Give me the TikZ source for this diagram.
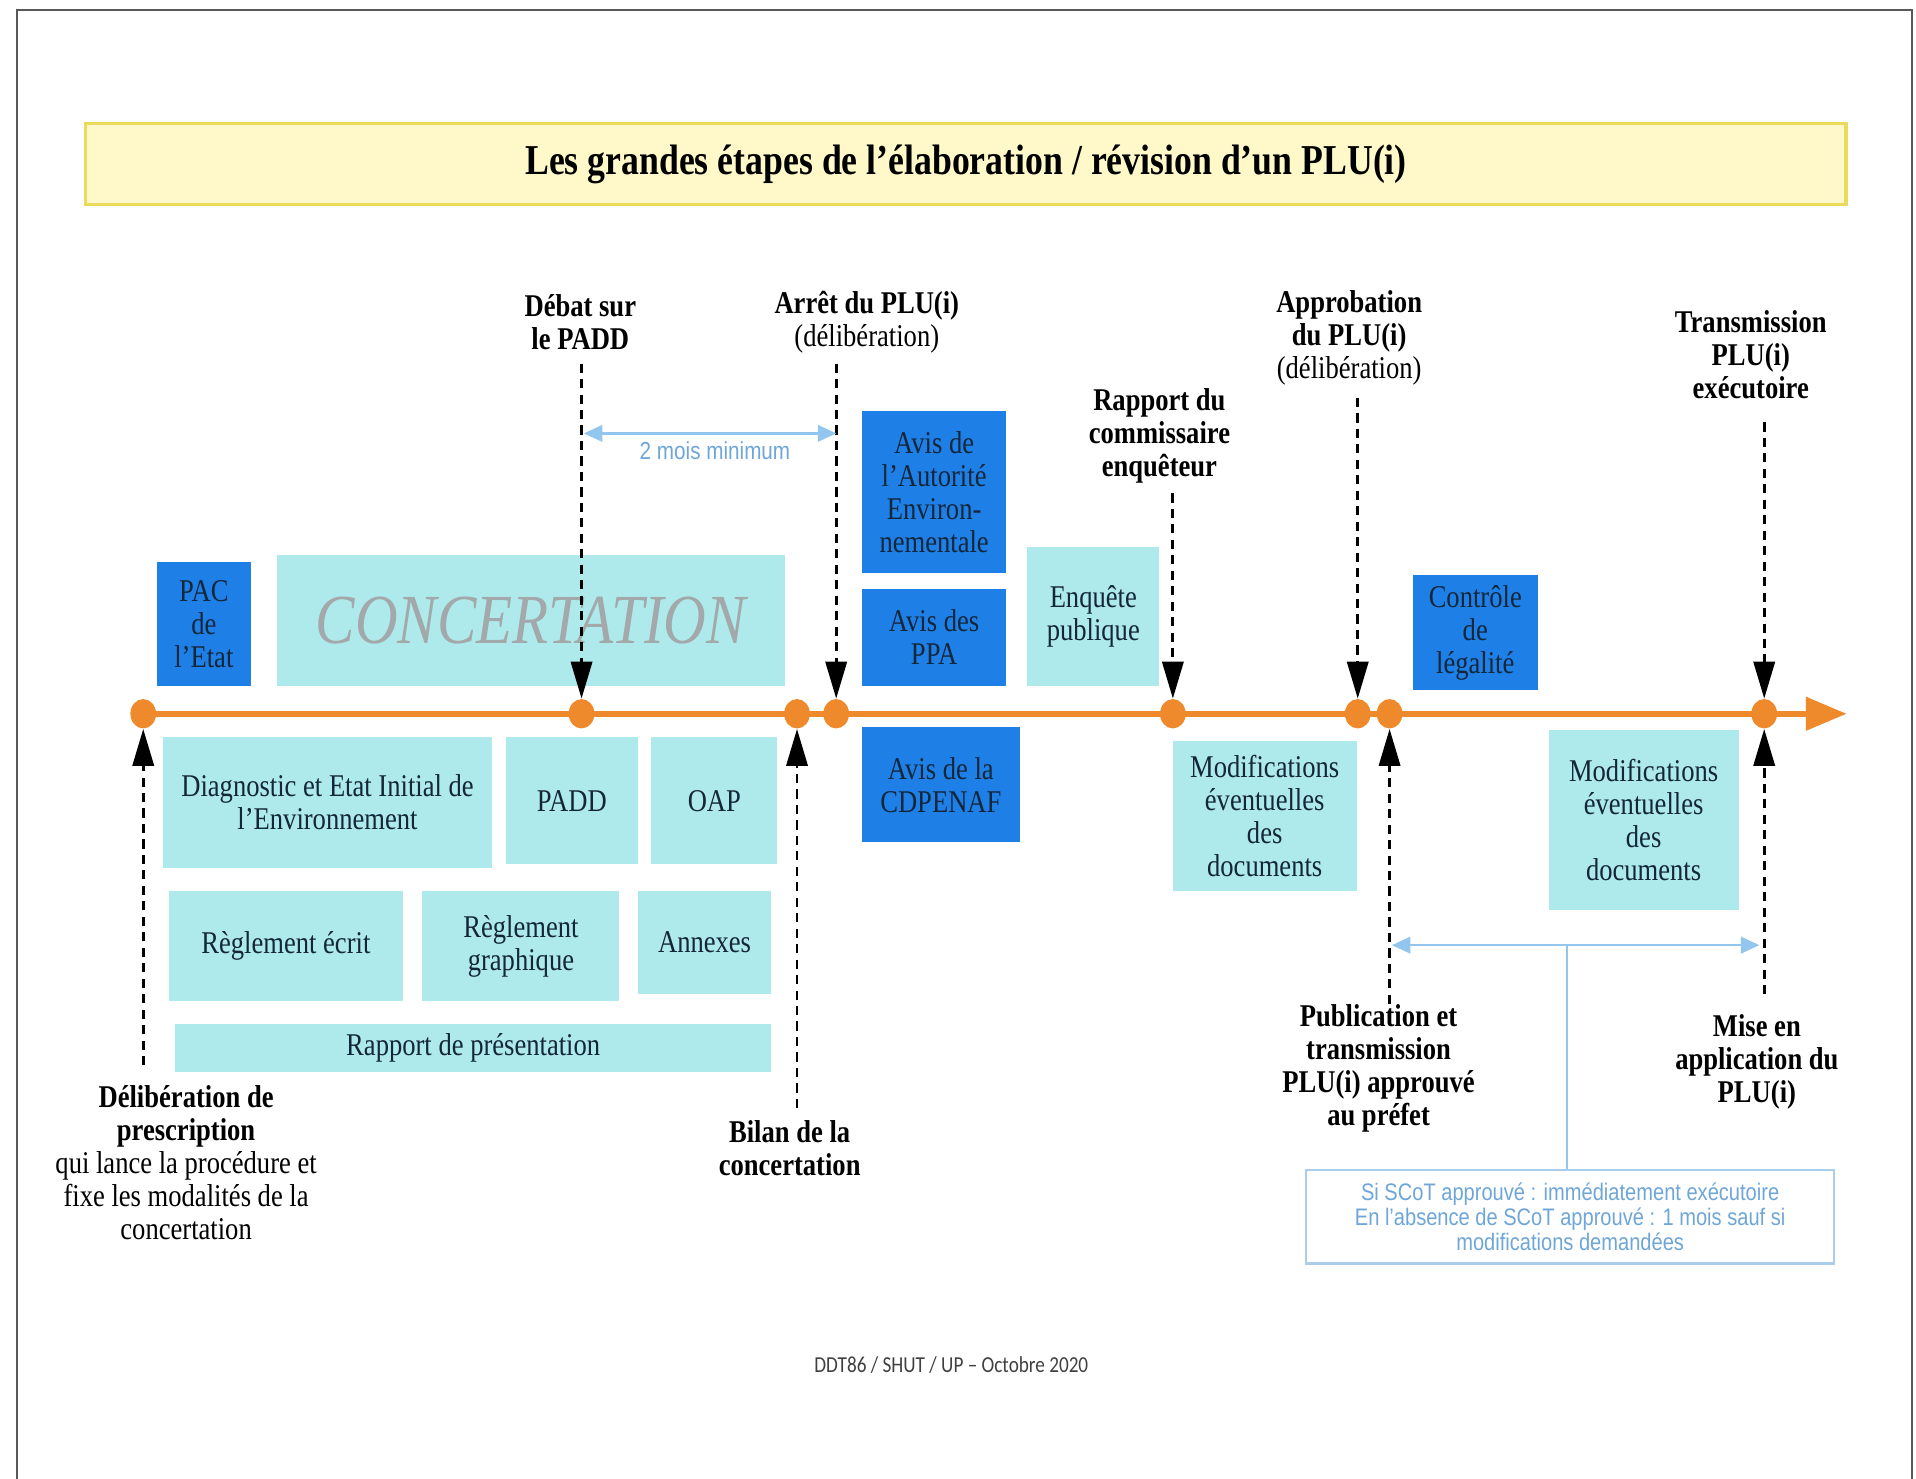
\documentclass[tikz,border=0pt]{standalone}
\usepackage{fontspec}
\setmainfont{Liberation Serif}[FakeStretch=0.84]
\newfontfamily\notefont{Liberation Sans}[FakeStretch=0.84]
\newfontfamily\footfont{Carlito}[FakeStretch=0.84]
\usetikzlibrary{shapes.geometric,backgrounds}
\definecolor{tlorange}{HTML}{EE8A2B}
\definecolor{boxcyan}{HTML}{AEEAEB}
\definecolor{boxblue}{HTML}{1E80E6}
\definecolor{boxtext}{HTML}{13263A}
\definecolor{concgray}{HTML}{A3A8AA}
\definecolor{gapblue}{HTML}{92C6EE}
\definecolor{gaptext}{HTML}{6EA6D8}
\definecolor{notebord}{HTML}{A9CDEA}
\definecolor{titlefill}{HTML}{FFF8C8}
\definecolor{titlebord}{HTML}{ECDA5A}
\newdimen\vu \vu=0.012243cm

\begin{document}
\begin{tikzpicture}[x=0.012243cm,y=-0.012243cm]
\tikzstyle{every node}+=[inner sep=0pt]
\tikzstyle{cyanbox}=[fill=boxcyan, text=boxtext, align=center, font=\fontsize{9}{9.4}\selectfont]
\tikzstyle{bluebox}=[fill=boxblue, text=boxtext, align=center, font=\fontsize{9}{9.4}\selectfont]
\tikzstyle{milestone}=[ellipse, fill=tlorange, minimum width=21\vu, minimum height=24\vu]
\tikzstyle{lbl}=[align=center, font=\fontsize{9}{9.4}\selectfont]
\tikzstyle{lblb}=[align=center, font=\fontsize{9}{9.4}\selectfont\bfseries]
\tikzstyle{dasharrow}=[black, line width=0.8pt, dash pattern=on 2.6pt off 1.8pt, shorten >=20\vu]
\tikzstyle{gap}=[gapblue, line width=0.7pt, shorten >=10\vu, shorten <=10\vu]
\useasboundingbox (0,0) rectangle (1565,1208);
\draw [black!65, line width=0.5pt] (14,1208) -- (14,8) -- (1562,8) -- (1562,1208);
\node [fill=titlefill, draw=titlebord, line width=1pt, minimum width=1438\vu, minimum height=66\vu, font=\fontsize{12.1}{13}\selectfont\bfseries] (title) at (789,134) {Les grandes étapes de l’élaboration / révision d’un PLU(i)};
\node [cyanbox, minimum width=415\vu, minimum height=107\vu, text=concgray, font=\fontsize{20}{21}\selectfont\itshape] (conc) at (433.5,506.5) {CONCERTATION};
\node [cyanbox, minimum width=269\vu, minimum height=107\vu] (diag) at (267.5,655.5) {Diagnostic et Etat Initial de\\l’Environnement};
\node [cyanbox, minimum width=108\vu, minimum height=104\vu] (padd) at (467,654) {PADD};
\node [cyanbox, minimum width=103\vu, minimum height=104\vu] (oap) at (583.5,654) {OAP};
\node [cyanbox, minimum width=191\vu, minimum height=90\vu] (regecr) at (233.5,773) {Règlement écrit};
\node [cyanbox, minimum width=161\vu, minimum height=90\vu] (reggra) at (425.5,773) {Règlement\\graphique};
\node [cyanbox, minimum width=109\vu, minimum height=84\vu] (annex) at (575.5,770) {Annexes};
\node [cyanbox, minimum width=487\vu, minimum height=40\vu] (rapp) at (386.5,856) {Rapport de présentation};
\node [cyanbox, minimum width=108\vu, minimum height=113\vu] (enq) at (893,503.5) {Enquête\\publique};
\node [cyanbox, minimum width=150\vu, minimum height=123\vu] (modifA) at (1033,666.5) {Modifications\\éventuelles\\des\\documents};
\node [cyanbox, minimum width=155\vu, minimum height=147\vu] (modifB) at (1342.5,669.5) {Modifications\\éventuelles\\des\\documents};
\node [bluebox, minimum width=77\vu, minimum height=101\vu] (pac) at (166.5,509.5) {PAC\\de\\l’Etat};
\node [bluebox, minimum width=118\vu, minimum height=132\vu] (avisAE) at (763,402) {Avis de\\l’Autorité\\Environ-\\nementale};
\node [bluebox, minimum width=118\vu, minimum height=79\vu] (avisPPA) at (763,520.5) {Avis des\\PPA};
\node [bluebox, minimum width=129\vu, minimum height=94\vu] (avisCDP) at (768.5,641) {Avis de la\\CDPENAF};
\node [bluebox, minimum width=102\vu, minimum height=94\vu] (ctrl) at (1205,517) {Contrôle\\de\\légalité};
\node [milestone] (d1) at (117,583) {};
\node [milestone] (d2) at (475,583) {};
\node [milestone] (d3) at (651,583) {};
\node [milestone] (d4) at (683,583) {};
\node [milestone] (d5) at (958,583) {};
\node [milestone] (d6) at (1109,583) {};
\node [milestone] (d7) at (1135,583) {};
\node [milestone] (d8) at (1441,583) {};
\coordinate (tlend) at (1508,583);
\begin{pgfonlayer}{background}
\draw [tlorange, line width=1.75pt, shorten >=25\vu] (d1.center) -- (tlend);
\end{pgfonlayer}
\fill [tlorange] (tlend) -- ++(-33,-14) -- ++(0,28) -- cycle;
\node [lblb] (lDebat) at (474,263) {Débat sur\\le PADD};
\node [lbl] (lArret) at (708,263) {\textbf{Arrêt du PLU(i)}\\(délibération)};
\node [lblb] (lRapport) at (947,356) {Rapport du\\commissaire\\enquêteur};
\node [lbl] (lApprob) at (1102,276) {\textbf{Approbation}\\\textbf{du PLU(i)}\\(délibération)};
\node [lblb] (lTransm) at (1430,290) {Transmission\\PLU(i)\\exécutoire};
\node [lbl] (lDelib) at (152,949.5) {\textbf{Délibération de}\\\textbf{prescription}\\qui lance la procédure et\\fixe les modalités de la\\concertation};
\node [lblb] (lBilan) at (645,938) {Bilan de la\\concertation};
\node [lblb] (lPubli) at (1126,872.5) {Publication et\\transmission\\PLU(i) approuvé\\au préfet};
\node [lblb] (lMise) at (1435,867) {Mise en\\application du\\PLU(i)};
\coordinate (cDebat) at (475,297);
\coordinate (cArret) at (683,297);
\coordinate (cRapport) at (958,403);
\coordinate (cApprob) at (1109,325);
\coordinate (cTransm) at (1441,345);
\coordinate (cDelib) at (117,870);
\coordinate (cBilan) at (651,905);
\coordinate (cPubli) at (1135,820);
\coordinate (cMise) at (1441,812);
\foreach \c/\d in {cDebat/d2,cArret/d4,cRapport/d5,cApprob/d6,cTransm/d8} {
\draw [dasharrow] (\c) -- (\d.north);
\fill [black] (\d.north) -- ++(-9,-30) -- ++(18,0) -- cycle;
}
\foreach \c/\d in {cDelib/d1,cBilan/d3,cPubli/d7,cMise/d8} {
\draw [dasharrow] (\c) -- (\d.south);
\fill [black] (\d.south) -- ++(-9,30) -- ++(18,0) -- cycle;
}
\coordinate (g1) at (477,354);
\coordinate (g2) at (683,354);
\draw [gap] (g1) -- (g2);
\fill [gapblue] (g1) -- ++(15,-7) -- ++(0,14) -- cycle;
\fill [gapblue] (g2) -- ++(-15,-7) -- ++(0,14) -- cycle;
\node [text=gaptext, font=\notefont\fontsize{7}{8}\selectfont] (gapLbl) at (584,368) {2 mois minimum};
\node [draw=notebord, line width=0.6pt, minimum width=431\vu, minimum height=76\vu, align=center, text=gaptext, font=\notefont\fontsize{6.8}{7.1}\selectfont] (note) at (1282.5,994) {Si SCoT approuvé : immédiatement exécutoire\\En l’absence de SCoT approuvé : 1 mois sauf si\\modifications demandées};
\coordinate (s1) at (1137,772);
\coordinate (s2) at (1437,772);
\coordinate (sj) at (1280,772);
\draw [gap] (s1) -- (s2);
\fill [gapblue] (s1) -- ++(15,-7) -- ++(0,14) -- cycle;
\fill [gapblue] (s2) -- ++(-15,-7) -- ++(0,14) -- cycle;
\draw [gapblue, line width=0.7pt] (sj) -- (sj |- note.north);
\node [text=black!75, font=\footfont\fontsize{6.5}{7}\selectfont] (foot) at (777,1115) {DDT86 / SHUT / UP – Octobre 2020};
\end{tikzpicture}
\end{document}
